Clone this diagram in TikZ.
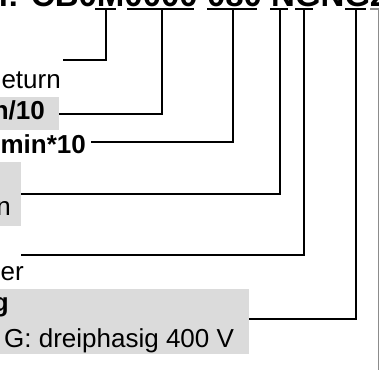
\documentclass[tikz,border=0pt]{standalone}
\usepackage{fontspec}
\setmainfont{Liberation Sans}
\begin{document}
\begin{tikzpicture}[x=1pt,y=-1pt,
  lbl/.style={inner sep=0pt,font=\fontsize{26}{30}\selectfont},
  lblb/.style={lbl,font=\fontsize{26}{30}\selectfont\bfseries},
  title/.style={inner sep=0pt,font=\fontsize{33}{40}\selectfont\bfseries},
  graybox/.style={fill=black!14,draw=none,inner sep=0pt,anchor=north west},
  conn/.style={line width=2pt,black},
  uline/.style={line width=2pt,black},
  thinconn/.style={line width=1pt,black!45}]
\useasboundingbox (0,0) rectangle (379,369);
\clip (0,0) rectangle (379,369);
% gray boxes
\node[graybox,minimum width=59pt,minimum height=33pt] (box1) at (0,97) {};
\node[graybox,minimum width=21pt,minimum height=64pt] (box2) at (0,162) {};
\node[graybox,minimum width=249pt,minimum height=65pt] (box3) at (0,289) {};
% title (only lower part visible)
\node[title,anchor=base west] (title) at (-12.6,7) {n: CB0M0000 080 NGNGZ};
% labels
\node[lbl,anchor=base east] (l1) at (61,88) {eturn};
\node[lblb,anchor=base east] (l2) at (45,119) {n/10};
\node[lblb,anchor=base east] (l3) at (86,153) {min*10};
\node[lbl,anchor=base east] (l4) at (11,215) {n};
\node[lbl,anchor=base east] (l5) at (24,280) {er};
\node[lblb,anchor=base east] (l6) at (9,311) {g};
\node[lbl,anchor=base west] (l7) at (4,347) {G: dreiphasig 400 V};
% underline segments
\draw[uline] (95,9) -- (116,9);
\draw[uline] (127,9) -- (194,9);
\draw[uline] (207,9) -- (257,9);
\draw[uline] (270,9) -- (288,9);
\draw[uline] (295,9) -- (313,9);
\draw[uline] (345,9) -- (366,9);
\draw[thinconn,line width=2pt] (370,9) -- (380,9);
% connector anchor coordinates
\coordinate (u1) at (106,9);
\coordinate (u2) at (162,9);
\coordinate (u3) at (233,9);
\coordinate (u4) at (279.5,9);
\coordinate (u5) at (304,9);
\coordinate (u6) at (356,9);
\coordinate (u7) at (378.3,9);
\coordinate (e1) at (63,60);
\coordinate (e3) at (91,142);
\coordinate (e5) at (21,255);
\coordinate (e6) at (249,319);
\coordinate (e7) at (378.3,372);
% connectors
\draw[conn] (u1) |- (e1);
\draw[conn] (u2) |- (box1.east);
\draw[conn] (u3) |- (e3);
\draw[conn] (u4) |- (box2.east);
\draw[conn] (u5) |- (e5);
\draw[conn] (u6) |- (e6);
\draw[thinconn] (u7) -- (e7);
\end{tikzpicture}
\end{document}
